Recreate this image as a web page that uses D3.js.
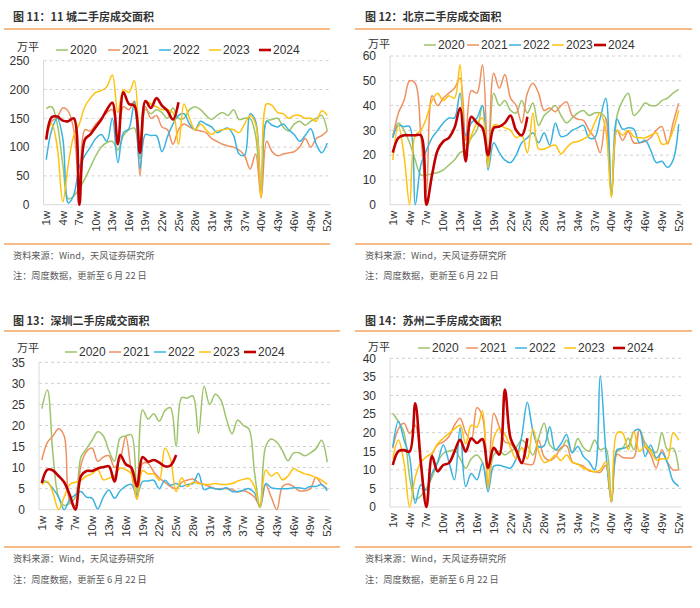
<!DOCTYPE html>
<html><head><meta charset="utf-8">
<script src="https://cdn.jsdelivr.net/npm/d3@7/dist/d3.min.js"></script>
<style>
body{margin:0;background:#fff}
svg text{font-family:"Liberation Sans",Arial,"Noto Sans CJK SC",sans-serif}
</style></head>
<body><svg id="chart" width="700" height="608"></svg>
<script>
const weeks=["1w","2w","3w","4w","5w","6w","7w","8w","9w","10w","11w","12w","13w","14w","15w","16w","17w","18w","19w","20w","21w","22w","23w","24w","25w","26w","27w","28w","29w","30w","31w","32w","33w","34w","35w","36w","37w","38w","39w","40w","41w","42w","43w","44w","45w","46w","47w","48w","49w","50w","51w","52w"];
const tickWeeks=["1w","4w","7w","10w","13w","16w","19w","22w","25w","28w","31w","34w","37w","40w","43w","46w","49w","52w"];
const years=["2020","2021","2022","2023","2024"];
const titles=["图 11：11 城二手房成交面积","图 12：北京二手房成交面积","图 13：深圳二手房成交面积","图 14：苏州二手房成交面积"];
const unitLabel="万平";
const sourceText="资料来源：Wind，天风证券研究所";
const noteText="注：周度数据，更新至 6 月 22 日";
const yTicks11=[0,50,100,150,200,250];
const yTicksBJ=[0,10,20,30,40,50,60];
const yTicksSZ=[0,5,10,15,20,25,30,35];
const yTicksSuz=[0,5,10,15,20,25,30,35,40];

// 11 cities
const c11_2020=[167,170,140,70,10,15,28,45,65,85,100,108,110,95,120,130,133,80,165,158,165,160,150,168,150,150,165,170,165,155,148,155,160,155,165,148,150,150,120,20,145,148,150,135,128,140,145,138,145,150,155,128];
const c11_2021=[125,145,152,168,162,130,30,130,128,140,150,160,165,110,170,165,180,50,170,150,155,135,130,105,130,140,135,130,128,125,115,110,105,102,100,95,85,62,88,12,110,92,85,88,90,92,100,115,100,115,120,128];
const c11_2022=[78,130,150,115,3,17,66,85,100,115,122,110,150,73,125,132,178,62,122,120,120,92,118,140,155,158,140,130,145,140,135,125,130,133,120,88,86,158,145,18,145,138,135,140,130,122,110,120,132,105,90,107];
const c11_2023=[118,140,100,5,70,120,140,170,185,195,198,205,225,160,200,195,215,95,180,175,170,165,165,160,105,175,150,130,140,130,122,128,130,132,130,125,140,155,140,12,175,172,160,158,150,155,155,150,150,145,163,155];
const c11_2024=[113,152,153,146,145,150,0,113,122,135,148,165,177,105,195,175,172,90,180,168,185,172,163,148,178];

// Beijing
const bj_2020=[28,33,30,25,18,12,12,12.5,13,14,16,18,21,22,27,30,40,17,45,40,42,38,37,42,37,41,32,36,38,40,36,33,35,37,38,36,37,37,35,3,36,42,45,36,38,41,40,40,42,43,45,46.5];
const bj_2021=[27,37,42,50,49,28,5,44,40,43,45,47,51,26,46,45,56.5,18,53,47,52.5,43,40,33,45,49,45,38,39,37.5,40,41.5,36,34.5,34,30,27,21,35,4,30,26,29.5,25,25,25.5,27,30,31.5,24.5,33,41];
const bj_2022=[27,32,31.5,31.5,0,16,22,27,30,33,35,35,45,28,33,35,40,14,25,21,18,17,20,25,27,29,25,29,24,33,27.5,28,30,31,32,27,27,35,43,4,34.5,30.5,31,30.5,25,26,22,17,17.5,15,18,32.5];
const bj_2023=[18,32,20,0,28,30,35,42,45,42,44,43,56.5,24,28,33,35,15,32,32,31,30,27,28,21,37,22.5,22.5,23.5,24,20.5,23,25,25.5,26.5,28,33,37,30,3,30,28,30,27.5,27,27,28,29,24.5,25,30,38];
const bj_2024=[21,27,28,28,28,28,0,12,22,25.5,27,31,39,17.5,35.5,33,31,20,31,31.5,33,36,30,28,35.5];

// Shenzhen
const sz_2020=[24,28.4,13,3,1,1.5,3,12.5,14.5,16.5,18.5,17.5,14,11.5,17,17.5,17.8,2.8,23.7,21.5,22.8,21,23.5,24.2,15,26.6,26.5,27,18.1,29.3,25,27.4,26,21.5,18,21.3,20,19.2,9,0.7,15,16.8,16,14,11.6,13.5,13.5,12.8,13.5,14.5,16.5,11.3];
const sz_2021=[11.8,16,17.5,19.2,17.5,2,1,10.6,13.8,14.6,11.5,12.5,12.8,10,12,17.3,9,2.5,11,11,9,7.5,6.5,5.5,5,6.5,7,7.3,6.5,6,5.5,5,5,5,4.8,4.2,4.5,4,3,1,5.9,3,0,5.5,6.1,5.5,4.5,4.5,5,7.7,6,5];
const sz_2022=[7,6.5,5,3,0,2.5,3.5,4.3,3,2.7,0.2,3,4.7,2.7,4.5,5.6,6,3.5,6.7,6.8,7,5,7,5.8,6.2,5.5,6,6.2,8.6,4.8,5.2,5,4.8,5.2,4.3,4.3,4.6,5,4,0.5,6.2,5.2,5,5,5,5.2,5.2,5,5.5,5.5,6,4.5];
const sz_2023=[6,6.7,4,0,3,6,6.5,7,8,8.5,9.5,7.1,7.5,8,9.9,9.5,8.5,2.5,9.3,8.5,8.5,7,14.6,12,4.3,7.6,5.5,6.5,6.2,6,6,6.2,6,6,6.2,6.8,7.2,7.4,5.5,0.5,9.4,8,8.8,7.1,8,9.7,9.1,8.5,8.2,7.6,7,6];
const sz_2024=[6.3,9.5,9.3,8,6.5,3.5,0,8,9.2,9.2,9.8,10.1,10.3,6.7,13,10.8,10,5.5,12.5,11.4,11.8,11.2,10.3,10.5,13];

// Suzhou
const suz_2020=[25.2,23,20,8,2,3,5,8,12,14.4,15,15.3,13,10.4,13,14,12,6,14,15,14,15,16,18,16.5,14,18.5,22.5,16.7,15.4,15.5,18,14.6,18.4,16,15,18,15.4,15.8,1.4,15,15.8,18.5,15.4,20.8,17.3,15.5,14.6,19.9,15.4,15.8,10];
const suz_2021=[15.8,21,22.5,19.8,22,12,1.9,14,16.7,17.5,18.9,22,23.9,20,18,26.7,24.3,5,25.2,21.5,17.5,17,15,12,11.5,11.5,18,13.5,12.5,13.5,16,16.5,12.2,11.5,11,9.7,9.5,9.3,11.2,1.4,14.2,13.3,13.2,13.3,20.8,16.3,14,10.5,15.4,12,10,10];
const suz_2022=[16.2,23.1,18,13.5,1,6,4.6,9,12,16.7,12.2,7.3,21.3,5.5,9,7.3,11.8,4.1,11,11.2,10.8,10.5,13,19,28.2,20.3,16.2,16.5,21.6,15.4,17,19.5,14.6,16.3,13.6,12.2,10,35.3,15,1.4,15.4,15.8,16.3,20.3,20.8,13.6,16.7,13.2,14.6,11.8,7,5.6];
const suz_2023=[13,18,12,0,8,12,13.5,14.5,17,18.5,19.8,21,22,17,22,21.5,25.8,5,18.5,21.2,19.5,16,13,16,13,21,15,12,12.5,14,12.5,14,12,11.5,10.5,10,9.5,10,12.2,1.4,19.9,19.9,15.4,20.3,15,16.3,15,12.7,13,13,19.9,18];
const suz_2024=[11.3,15,15.3,14.9,27.9,12,0,13.7,9.6,11.3,11.8,14.9,18.1,14.9,18.5,17.2,18.3,10.5,15.9,14.1,31.6,18.5,15.3,11.8,18.5];

const colors=["#9DC46A","#EE9060","#3AB2E2","#FFC20E","#C00000"];
const widths=[1.5,1.5,1.5,1.5,2.6];

const panels=[
 {title:titles[0],series:[c11_2020,c11_2021,c11_2022,c11_2023,c11_2024],ticks:yTicks11,x0:43.5,x1:330,y0:204.7,y1:60.7,legX:[70,122,173,223,273],legY:50,unitX:17,unitY:47,titleX:13,titleY:17,rule:[4,330,29,244],srcY:256,noteY:276},
 {title:titles[1],series:[bj_2020,bj_2021,bj_2022,bj_2023,bj_2024],ticks:yTicksBJ,x0:390,x1:681.5,y0:204.7,y1:56,legX:[438,481,523,566,608],legY:45,unitX:368,unitY:44,titleX:365,titleY:17,rule:[355,692,29,244],srcY:256,noteY:276},
 {title:titles[2],series:[sz_2020,sz_2021,sz_2022,sz_2023,sz_2024],ticks:yTicksSZ,x0:39,x1:330,y0:509.7,y1:362.3,legX:[79,123,168,213,258],legY:352,unitX:17,unitY:348,titleX:13,titleY:321,rule:[4,340,331,547],srcY:559,noteY:580},
 {title:titles[3],series:[suz_2020,suz_2021,suz_2022,suz_2023,suz_2024],ticks:yTicksSuz,x0:390,x1:681.5,y0:507,y1:358.3,legX:[432,480,529,578,627],legY:348,unitX:368,unitY:347,titleX:365,titleY:321,rule:[355,692,331,547],srcY:559,noteY:580}
];

const svg=d3.select("#chart");
panels.forEach(p=>{
  const g=svg.append("g");
  g.append("text").attr("x",p.titleX).attr("y",p.titleY).attr("dy","0.35em")
   .attr("font-size",11).attr("font-weight","bold").attr("fill","#333")
   .style("font-family","'Noto Sans CJK SC',sans-serif").text(p.title);
  g.append("line").attr("x1",p.rule[0]).attr("x2",p.rule[1]).attr("y1",p.rule[2]).attr("y2",p.rule[2]).attr("stroke","#F4A460").attr("stroke-width",1.5);
  g.append("line").attr("x1",p.rule[0]).attr("x2",p.rule[1]).attr("y1",p.rule[3]).attr("y2",p.rule[3]).attr("stroke","#F4A460").attr("stroke-width",1.5);
  g.append("text").attr("x",p.titleX).attr("y",p.srcY).attr("dy","0.35em").attr("font-size",9.2).attr("fill","#595959")
   .style("font-family","'Noto Sans CJK SC',sans-serif").text(sourceText);
  g.append("text").attr("x",p.titleX).attr("y",p.noteY).attr("dy","0.35em").attr("font-size",9.2).attr("fill","#595959")
   .style("font-family","'Noto Sans CJK SC',sans-serif").text(noteText);

  const x=d3.scaleBand().domain(weeks).range([p.x0,p.x1]);
  const yMax=p.ticks[p.ticks.length-1];
  const y=d3.scaleLinear().domain([0,yMax]).range([p.y0,p.y1]);

  g.append("g").selectAll("line").data(p.ticks.filter(t=>t>0)).join("line")
   .attr("x1",p.x0).attr("x2",p.x1).attr("y1",d=>y(d)).attr("y2",d=>y(d))
   .attr("stroke","#d0d0d0").attr("stroke-dasharray","3,3").attr("stroke-width",1);
  g.append("line").attr("x1",p.x0).attr("x2",p.x0).attr("y1",p.y0).attr("y2",p.y1).attr("stroke","#d9d9d9");
  g.append("line").attr("x1",p.x0).attr("x2",p.x1).attr("y1",p.y0).attr("y2",p.y0).attr("stroke","#d9d9d9");

  const ya=d3.axisLeft(y).tickValues(p.ticks).tickSize(0).tickPadding(14);
  const yg=g.append("g").attr("transform",`translate(${p.x0},0)`).call(ya);
  yg.select(".domain").remove();
  yg.selectAll("text").attr("font-size",12).attr("fill","#333").style("font-family","'Liberation Sans',Arial,sans-serif");

  const xa=d3.axisBottom(x).tickValues(tickWeeks).tickSize(0).tickPadding(0);
  const xg=g.append("g").attr("transform",`translate(0,${p.y0})`).call(xa);
  xg.select(".domain").remove();
  xg.selectAll("text").attr("font-size",11.5).attr("fill","#333")
    .attr("text-anchor","end").attr("dy","0.35em").attr("y",0)
    .attr("transform","translate(0,6) rotate(-90)")
    .style("font-family","'Liberation Sans',Arial,sans-serif");

  const line=d3.line().x((d,i)=>x(weeks[i])+x.bandwidth()/2).y(d=>y(d)).curve(d3.curveCatmullRom.alpha(0.5));
  p.series.forEach((s,k)=>{
    g.append("path").datum(s).attr("d",line).attr("fill","none")
     .attr("stroke",colors[k]).attr("stroke-width",widths[k]).attr("stroke-linejoin","round");
  });

  g.append("text").attr("x",p.unitX).attr("y",p.unitY).attr("dy","0.35em").attr("font-size",11).attr("fill","#333")
   .style("font-family","'Noto Sans CJK SC',sans-serif").text(unitLabel);
  years.forEach((yr,k)=>{
    g.append("line").attr("x1",p.legX[k]-14).attr("x2",p.legX[k]-2).attr("y1",p.legY).attr("y2",p.legY)
     .attr("stroke",colors[k]).attr("stroke-width",widths[k]);
    g.append("text").attr("x",p.legX[k]).attr("y",p.legY).attr("dy","0.35em").attr("font-size",12).attr("fill","#333")
     .style("font-family","'Liberation Sans',Arial,sans-serif").text(yr);
  });
});
</script>
</body></html>
